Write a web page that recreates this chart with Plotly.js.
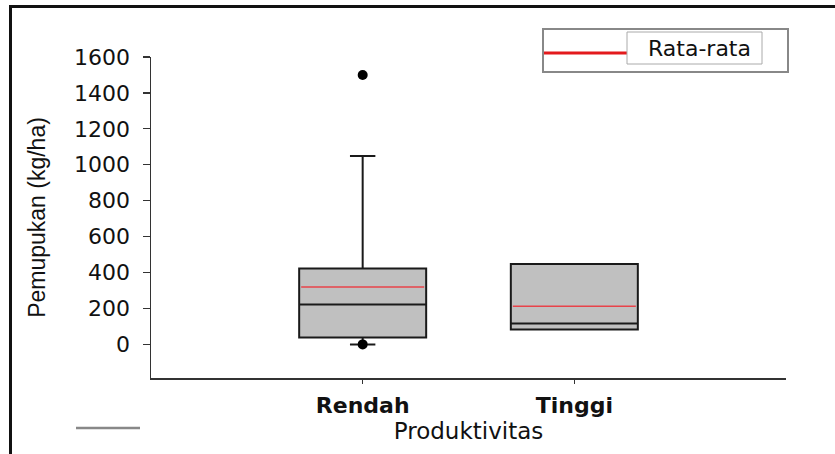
<!DOCTYPE html>
<html>
<head>
<meta charset="utf-8">
<script src="https://cdn.plot.ly/plotly-3.0.1.min.js"></script>
<style>
  html, body { margin: 0; padding: 0; background: #fff; }
  #wrap { position: relative; width: 835px; height: 454px; }
  #chart { width: 835px; height: 454px; }
  #frame { position: absolute; left: 9px; top: 5px; right: -5px; bottom: -5px;
           border-left: 3px solid #111; border-top: 3px solid #111; pointer-events: none; }
</style>
</head>
<body>
<div id="wrap"><div id="chart"></div><div id="frame"></div></div>
<script>
// ---- data ----
const categories = ['Rendah', 'Tinggi'];
const q1Values = [39, 83];
const medianValues = [222, 117];
const q3Values = [423, 448];
const lowerFence = [0, 83];
const upperFence = [1049, 448];
const meanValues = [320, 213];
const outlierCategory = ['Rendah', 'Rendah'];
const outlierValues = [1500, 0];
const yTickValues = [0, 200, 400, 600, 800, 1000, 1200, 1400, 1600];
const legendLabel = 'Rata-rata';
const xTitle = 'Produktivitas';
const yTitle = 'Pemupukan (kg/ha)';

// ---- layout geometry ----
const W = 835, H = 454;
const M = { l: 151, r: 49, t: 57, b: 76 };
const plotW = W - M.l - M.r, plotH = H - M.t - M.b;
const px = x => (x - M.l) / plotW;          // pixel -> paper x
const py = y => (H - M.b - y) / plotH;      // pixel -> paper y
const xRange = [-1, 2];
const boxWidth = 0.6;                        // in category units
const boxPx = boxWidth * plotW / (xRange[1] - xRange[0]);

const boxTrace = {
  type: 'box',
  x: categories,
  q1: q1Values, median: medianValues, q3: q3Values,
  lowerfence: lowerFence, upperfence: upperFence,
  boxpoints: false,
  width: boxWidth,
  fillcolor: '#c0c0c0',
  line: { color: '#1a1a1a', width: 2 },
  whiskerwidth: 0.2,
  showlegend: false,
  hoverinfo: 'skip'
};

const meanTrace = {
  type: 'scatter', mode: 'markers',
  x: categories, y: meanValues,
  marker: { symbol: 'line-ew', size: (boxPx - 4) / 1.4, color: '#e8434a',
            line: { color: '#e8434a', width: 1.5 } },
  showlegend: false, hoverinfo: 'skip'
};

const outlierTrace = {
  type: 'scatter', mode: 'markers',
  x: outlierCategory, y: outlierValues,
  marker: { symbol: 'circle', size: 10, color: '#000' },
  showlegend: false, hoverinfo: 'skip'
};

const layout = {
  width: W, height: H,
  margin: M,
  paper_bgcolor: '#fff', plot_bgcolor: '#fff',
  showlegend: false,
  xaxis: {
    type: 'category', categoryorder: 'array', categoryarray: categories,
    range: xRange,
    showgrid: false, zeroline: false,
    showline: true, linecolor: '#333', linewidth: 1.5,
    ticks: 'outside', ticklen: 4, tickwidth: 1.2, tickcolor: '#333',
    tickfont: { family: 'DejaVu Sans', size: 22, color: '#111', weight: 'bold' },
    ticklabelstandoff: 3,
    title: { text: xTitle, font: { family: 'DejaVu Sans', size: 23, color: '#111' }, standoff: 3 }
  },
  yaxis: {
    range: [-187, 1600],
    tickmode: 'array', tickvals: yTickValues,
    showgrid: false, zeroline: false,
    showline: true, linecolor: '#333', linewidth: 1.5,
    ticks: 'outside', ticklen: 7, tickwidth: 1.2, tickcolor: '#333',
    tickfont: { family: 'DejaVu Sans', size: 22, color: '#111' },
    ticklabelstandoff: 8,
    title: { text: yTitle, font: { family: 'Liberation Sans', size: 23, color: '#111' }, standoff: 22 }
  },
  shapes: [
    // legend outer box
    { type: 'rect', xref: 'paper', yref: 'paper', x0: px(543), x1: px(788), y0: py(72), y1: py(29),
      line: { color: '#888', width: 2 }, fillcolor: '#fff' },
    // legend sample line
    { type: 'line', xref: 'paper', yref: 'paper', x0: px(544), x1: px(627), y0: py(53), y1: py(53),
      line: { color: '#e31a1c', width: 3 } },
    // legend label box
    { type: 'rect', xref: 'paper', yref: 'paper', x0: px(627), x1: px(762), y0: py(64), y1: py(32),
      line: { color: '#aaa', width: 1 }, fillcolor: '#fff' },
    // stray grey legend line bottom-left
    { type: 'line', xref: 'paper', yref: 'paper', x0: px(76), x1: px(140), y0: py(428), y1: py(428),
      line: { color: '#888', width: 2.5 } }
  ],
  annotations: [
    { xref: 'paper', yref: 'paper', x: px(699), y: py(48), text: legendLabel, showarrow: false,
      xanchor: 'center', yanchor: 'middle',
      font: { family: 'DejaVu Sans', size: 22, color: '#111' } }
  ]
};

Plotly.newPlot('chart', [boxTrace, meanTrace, outlierTrace], layout, { displayModeBar: false, staticPlot: true });
</script>
</body>
</html>
